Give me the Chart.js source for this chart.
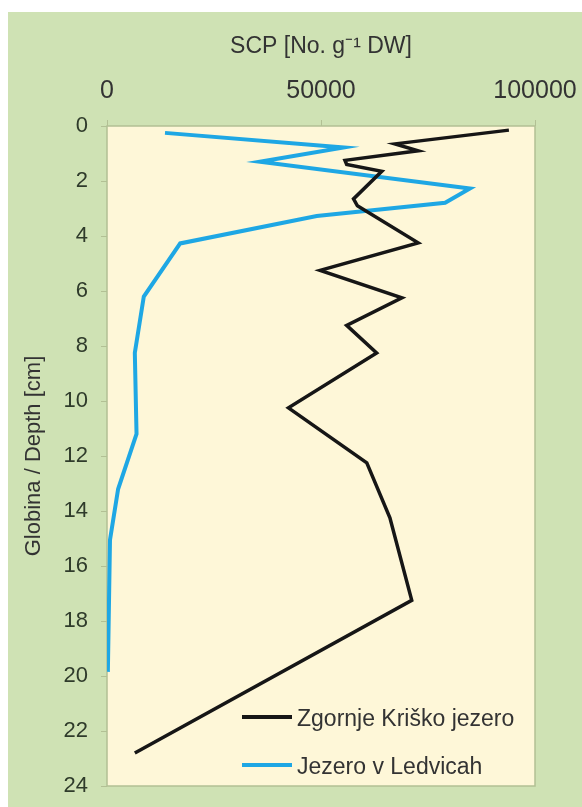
<!DOCTYPE html>
<html>
<head>
<meta charset="utf-8">
<script src="https://cdn.jsdelivr.net/npm/chart.js@4.4.0/dist/chart.umd.min.js"></script>
<style>
  html, body { margin: 0; padding: 0; background: #fff; }
</style>
</head>
<body>
<canvas id="myChart" width="582" height="807"></canvas>
<script>
// values (depth in cm, SCP in No. g-1 DW)
const kriskoDepth = [0.15, 0.65, 0.9, 1.25, 1.4, 1.65, 2.65, 2.9, 4.25, 5.25, 6.25, 7.25, 8.25, 10.25, 12.25, 14.25, 17.25, 22.8];
const kriskoScp = [93900, 67300, 72700, 55600, 56000, 64200, 57600, 58500, 72700, 49800, 68900, 56000, 63000, 42400, 60700, 66100, 71200, 6500];
const ledvicahDepth = [0.25, 0.78, 1.3, 2.27, 2.79, 3.27, 4.27, 6.2, 8.25, 11.2, 13.2, 15.05, 19.85];
const ledvicahScp = [13550, 55300, 35700, 84800, 79000, 49000, 17100, 8600, 6500, 6900, 2600, 700, 200];
const seriesNames = ["Zgornje Kriško jezero", "Jezero v Ledvicah"];
const xTicks = [0, 50000, 100000];
const yTicks = [0, 2, 4, 6, 8, 10, 12, 14, 16, 18, 20, 22, 24];

function toPoints(xs, ys) {
  return xs.map(function (v, i) {
    return { x: v, y: ys[i] };
  });
}

const font = "'Liberation Sans', Arial, sans-serif";

// green panel + cream plot area
const bgPlugin = {
  id: "bg",
  beforeDraw(chart) {
    const ctx = chart.ctx;
    const a = chart.chartArea;
    ctx.save();
    ctx.fillStyle = "#ffffff";
    ctx.fillRect(0, 0, chart.width, chart.height);
    ctx.fillStyle = "rgb(207,226,180)";
    ctx.fillRect(8, 12, chart.width - 8, chart.height - 12);
    ctx.fillStyle = "rgb(254,247,216)";
    ctx.fillRect(a.left, a.top, a.right - a.left, a.bottom - a.top);
    ctx.strokeStyle = "rgb(178,192,148)";
    ctx.lineWidth = 1.5;
    ctx.strokeRect(a.left, a.top, a.right - a.left, a.bottom - a.top);
    ctx.restore();
  },
};

// legend inside the plot, lower right
const legendPlugin = {
  id: "innerLegend",
  afterDatasetsDraw(chart) {
    const ctx = chart.ctx;
    const a = chart.chartArea;
    ctx.save();
    ctx.font = "23px " + font;
    ctx.textBaseline = "middle";
    ctx.textAlign = "left";
    chart.data.datasets.forEach(function (ds, i) {
      const y = a.bottom - 69 + i * 48;
      ctx.strokeStyle = ds.borderColor;
      ctx.lineWidth = 4;
      ctx.beginPath();
      ctx.moveTo(a.left + 135, y);
      ctx.lineTo(a.left + 185, y);
      ctx.stroke();
      ctx.fillStyle = "#333333";
      ctx.fillText(ds.label, a.left + 190, y + 3);
    });
    ctx.restore();
  },
};

let mychart = document.getElementById("myChart").getContext("2d");
let lineChart = new Chart(mychart, {
  type: "line",
  data: {
    datasets: [
      {
        label: seriesNames[0],
        data: toPoints(kriskoScp, kriskoDepth),
        borderColor: "#161616",
        borderWidth: 3.5,
        pointRadius: 0,
        tension: 0,
        fill: false,
      },
      {
        label: seriesNames[1],
        data: toPoints(ledvicahScp, ledvicahDepth),
        borderColor: "rgb(30,167,228)",
        borderWidth: 4,
        pointRadius: 0,
        tension: 0,
        fill: false,
      },
    ],
  },
  options: {
    responsive: false,
    animation: false,
    devicePixelRatio: 1,
    layout: { padding: { left: 0, top: 0, right: 47, bottom: 21 } },
    plugins: {
      legend: { display: false },
      tooltip: { enabled: false },
    },
    scales: {
      x: {
        type: "linear",
        position: "top",
        min: 0,
        max: 100000,
        afterBuildTicks(scale) {
          scale.ticks = xTicks.map(function (v) { return { value: v }; });
        },
        afterFit(scale) {
          scale.height = 126;
          scale.paddingLeft = 0;
          scale.paddingRight = 0;
        },
        ticks: {
          callback: function (v) { return String(v); },
          font: { family: font, size: 25 },
          color: "#333333",
          padding: 14,
          maxRotation: 0,
        },
        grid: { drawOnChartArea: false, tickLength: 6, color: "rgb(178,192,148)" },
        border: { display: false },
        title: {
          display: true,
          text: "SCP [No. g⁻¹ DW]",
          font: { family: font, size: 23 },
          color: "#333333",
          padding: { top: 33, bottom: 0 },
        },
      },
      y: {
        type: "linear",
        reverse: true,
        min: 0,
        max: 24,
        afterBuildTicks(scale) {
          scale.ticks = yTicks.map(function (v) { return { value: v }; });
        },
        afterFit(scale) {
          scale.width = 107;
          scale.paddingTop = 0;
          scale.paddingBottom = 0;
        },
        ticks: {
          font: { family: font, size: 22 },
          color: "#2f3b2b",
          padding: 13,
        },
        grid: { drawOnChartArea: false, tickLength: 6, color: "rgb(178,192,148)" },
        border: { display: false },
        title: {
          display: true,
          text: "Globina / Depth [cm]",
          font: { family: font, size: 22 },
          color: "#333333",
          padding: { top: 21, bottom: 0 },
        },
      },
    },
  },
  plugins: [bgPlugin, legendPlugin],
});
</script>
</body>
</html>
